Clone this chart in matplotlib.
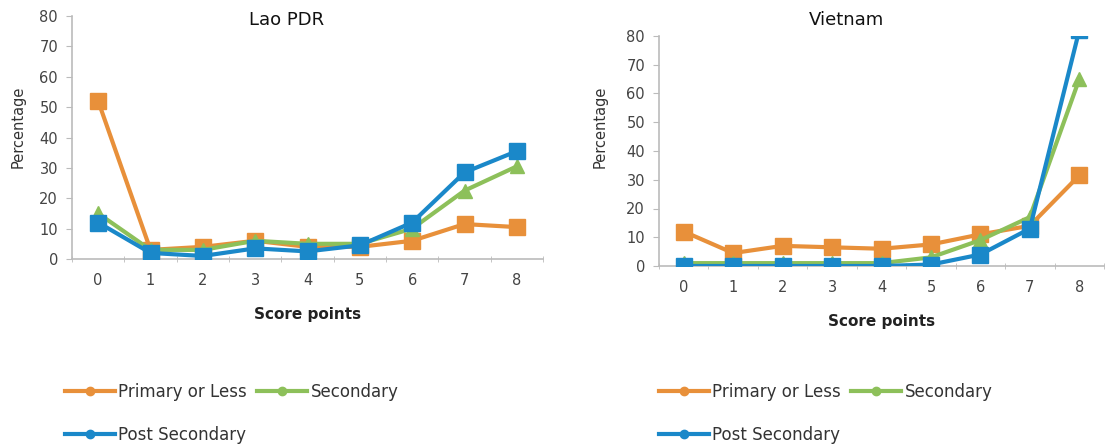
import matplotlib
matplotlib.use("Agg")
import matplotlib.pyplot as plt
from matplotlib.lines import Line2D

scores = [0, 1, 2, 3, 4, 5, 6, 7, 8]
yticks = [0, 10, 20, 30, 40, 50, 60, 70, 80]

lao_primary = [52, 3, 4, 6, 4, 4, 6, 11.5, 10.5]
lao_secondary = [15, 3, 3, 6, 5, 5, 10, 22.5, 30.5]
lao_post = [12, 2, 1, 3.5, 2.5, 4.5, 12, 28.5, 35.5]

vn_primary = [12, 4.5, 7, 6.5, 6, 7.5, 11, 14, 31.5]
vn_secondary = [1, 1, 1, 1, 1, 3, 9, 17, 65]
vn_post = [0, 0, 0, 0, 0, 0.5, 4, 13, 82]

series_names = ["Primary or Less", "Secondary", "Post Secondary"]
colors = ["#E8903A", "#8DC05A", "#1A88C9"]
markers = ["s", "^", "s"]

W, H = 1116, 446
fig = plt.figure(figsize=(W / 100, H / 100), dpi=100)


def make_axes(l, r, b, t):
    return fig.add_axes([l / W, 1 - b / H, (r - l) / W, (b - t) / H])


def style(ax):
    ax.set_xlim(-0.5, 8.5)
    ax.set_ylim(0, 80)
    ax.set_yticks(yticks)
    ax.set_xticks(scores)
    ax.set_xticks([i - 0.5 for i in range(10)], minor=True)
    ax.tick_params(axis="x", which="major", length=0, pad=10,
                   labelsize=10.5, labelcolor="#444444")
    ax.tick_params(axis="x", which="minor", length=4, direction="inout",
                   color="#bbbbbb")
    ax.tick_params(axis="y", length=4, direction="out", color="#bbbbbb",
                   labelsize=10.5, labelcolor="#444444", pad=6)
    for s in ["top", "right"]:
        ax.spines[s].set_visible(False)
    for s in ["left", "bottom"]:
        ax.spines[s].set_color("#bbbbbb")
        ax.spines[s].set_linewidth(1.2)
    ax.set_xlabel("Score points", fontsize=11, fontweight="bold",
                  color="#222222", labelpad=14)


def plot_series(ax, data):
    for vals, c, m, name in zip(data, colors, markers, series_names):
        ms = 12 if m == "s" else 10
        ax.plot(scores, vals, color=c, lw=3, marker=m, markersize=ms,
                label=name, clip_on=True, zorder=3)


ax1 = make_axes(72, 543, 259, 16)
plot_series(ax1, [lao_primary, lao_secondary, lao_post])
style(ax1)

ax2 = make_axes(659, 1104, 266, 36)
plot_series(ax2, [vn_primary, vn_secondary, vn_post])
style(ax2)

# titles and y labels
fig.text(287 / W, 1 - 20 / H, "Lao PDR", fontsize=13, color="#111111",
         ha="center", va="center")
fig.text(846 / W, 1 - 20 / H, "Vietnam", fontsize=13, color="#111111",
         ha="center", va="center")
fig.text(18 / W, 1 - 127 / H, "Percentage", fontsize=10.5, color="#333333",
         rotation=90, ha="center", va="center")
fig.text(600 / W, 1 - 127 / H, "Percentage", fontsize=10.5, color="#333333",
         rotation=90, ha="center", va="center")

handles = [Line2D([0], [0], color=c, lw=3, marker="o", markersize=6)
           for c in colors]
order = [0, 2, 1]
for x0 in (50, 644):
    leg = fig.legend([handles[i] for i in order],
                     [series_names[i] for i in order],
                     loc="upper left", bbox_to_anchor=(x0 / W, 1 - 368 / H),
                     ncol=2, frameon=False, fontsize=12, handlelength=3.0,
                     handletextpad=0.2, columnspacing=0.6, labelspacing=1.5)
    for t in leg.get_texts():
        t.set_color("#333333")

fig.savefig("out.png", dpi=100)
